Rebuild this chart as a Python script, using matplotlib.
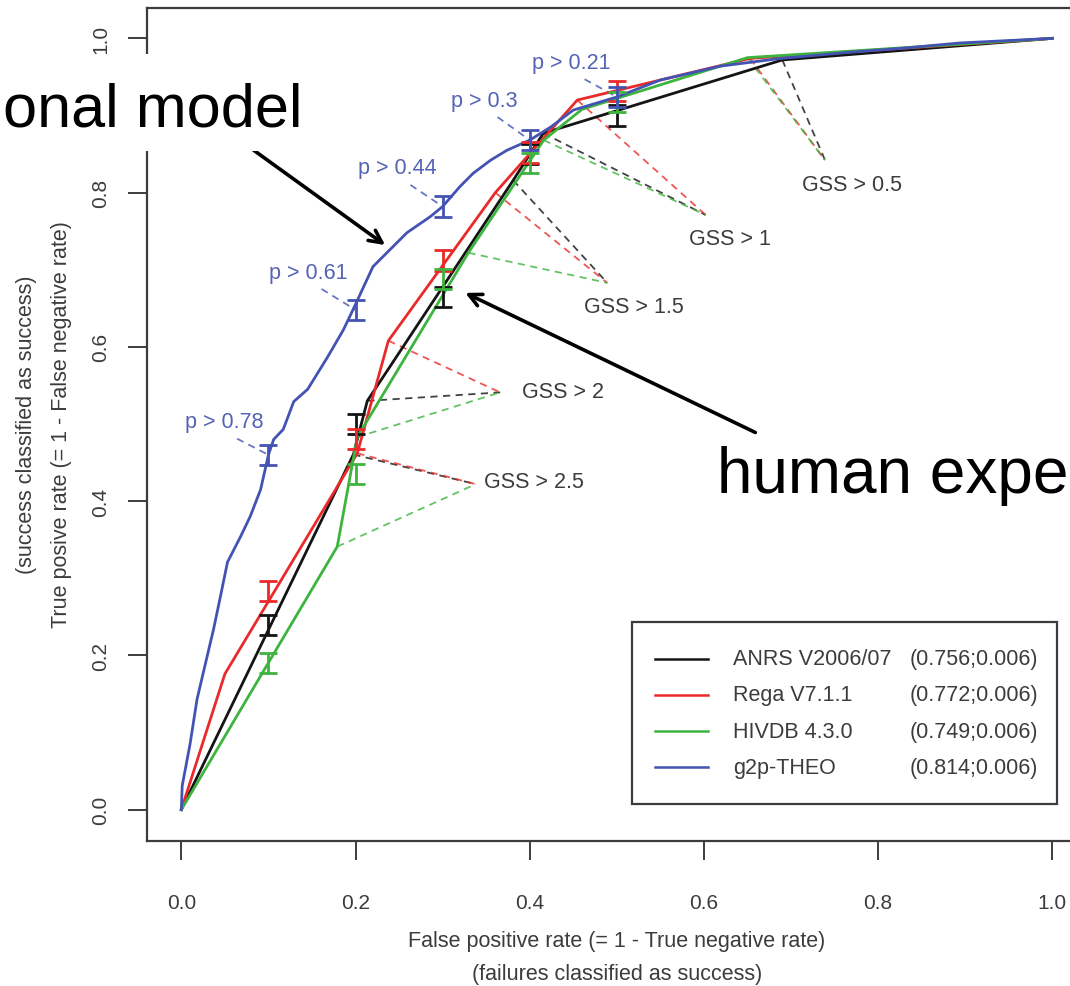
import numpy as np
import matplotlib.pyplot as plt
from matplotlib.patches import Rectangle
from matplotlib.lines import Line2D

plt.rcParams['font.family'] = ['Liberation Sans', 'DejaVu Sans']

# ROC vertices of the three rule-based systems
anrs_x = [0.0, 0.1975, 0.2135, 0.381, 0.4156, 0.690, 1.0]
anrs_y = [0.0, 0.4605, 0.530, 0.816, 0.877, 0.972, 1.0]
rega_x = [0.0, 0.05, 0.202, 0.2377, 0.3605, 0.4546, 0.653, 1.0]
rega_y = [0.0, 0.176, 0.462, 0.608, 0.800, 0.920, 0.974, 1.0]
hivdb_x = [0.0, 0.179, 0.202, 0.3295, 0.416, 0.46, 0.65, 1.0]
hivdb_y = [0.0, 0.341, 0.483, 0.722, 0.868, 0.908, 0.975, 1.0]

# g2p-THEO continuous score curve
theo_x = [0, 0.001, 0.010, 0.018, 0.028, 0.037, 0.045, 0.053, 0.068, 0.079,
          0.091, 0.100, 0.106, 0.117, 0.129, 0.145, 0.168, 0.186, 0.197, 0.220,
          0.259, 0.286, 0.300, 0.320, 0.335, 0.355, 0.374, 0.400, 0.424, 0.450,
          0.500, 0.550, 0.619, 0.688, 0.768, 0.826, 0.894, 1.0]
theo_y = [0, 0.031, 0.085, 0.143, 0.191, 0.234, 0.277, 0.321, 0.354, 0.380,
          0.415, 0.460, 0.480, 0.493, 0.529, 0.545, 0.587, 0.622, 0.648, 0.704,
          0.748, 0.769, 0.782, 0.808, 0.825, 0.842, 0.855, 0.868, 0.885, 0.907,
          0.924, 0.946, 0.964, 0.974, 0.982, 0.987, 0.994, 1.0]

# mean TPR with error bars at fixed FPR
err_fpr = [0.1, 0.2, 0.3, 0.4, 0.5]
anrs_err = [0.240, 0.500, 0.665, 0.850, 0.900]
rega_err = [0.283, 0.480, 0.712, 0.852, 0.932]
hivdb_err = [0.190, 0.435, 0.688, 0.838, 0.918]
theo_err = [0.460, 0.648, 0.782, 0.868, 0.924]
err_half = 0.013

# GSS cut-offs: label, where the dashed lines meet, and text centre
gss_labels = ['GSS > 0.5', 'GSS > 1', 'GSS > 1.5', 'GSS > 2', 'GSS > 2.5']
gss_meet_x = [0.739, 0.602, 0.489, 0.366, 0.338]
gss_meet_y = [0.842, 0.771, 0.683, 0.541, 0.422]
gss_text_x = [0.770, 0.630, 0.520, 0.438, 0.405]
gss_text_y = [0.810, 0.741, 0.652, 0.542, 0.426]
# vertex index of each cut-off on each curve
anrs_idx = [5, 4, 3, 2, 1]
rega_idx = [6, 5, 4, 3, 2]
hivdb_idx = [6, 4, 3, 2, 1]

# g2p probability cut-offs, one per error bar
p_labels = ['p > 0.78', 'p > 0.61', 'p > 0.44', 'p > 0.3', 'p > 0.21']
p_text_x = [0.049, 0.146, 0.248, 0.348, 0.448]
p_text_y = [0.503, 0.697, 0.832, 0.920, 0.969]

names = ['ANRS V2006/07', 'Rega V7.1.1', 'HIVDB 4.3.0', 'g2p-THEO']
auc = ['(0.756;0.006)', '(0.772;0.006)', '(0.749;0.006)', '(0.814;0.006)']

BLACK = '#141414'
RED = '#ea2a2a'
GREEN = '#3db43d'
BLUE = '#4353b3'
GREY = '#3c3c3c'

W, H = 1070, 987
fig = plt.figure(figsize=(W / 100, H / 100), dpi=100)
ax = fig.add_axes([146.5 / W, (H - 841.5) / H, 940.7 / W, 833 / H])
ax.set_xlim(-0.04, 1.04)
ax.set_ylim(-0.04, 1.04)

# dashed connectors first so the curves sit on top
curves = [(anrs_x, anrs_y, anrs_idx, BLACK), (rega_x, rega_y, rega_idx, RED),
          (hivdb_x, hivdb_y, hivdb_idx, GREEN)]
for k in range(len(gss_labels)):
    for cx, cy, idx, col in curves:
        i = idx[k]
        ax.plot([cx[i], gss_meet_x[k]], [cy[i], gss_meet_y[k]], color=col,
                lw=1.3, ls=(0, (4, 3)), alpha=0.8, zorder=2)
    ax.text(gss_text_x[k], gss_text_y[k], gss_labels[k], fontsize=15.5,
            color=GREY, ha='center', va='center', zorder=3)

for k in range(len(p_labels)):
    ax.plot([p_text_x[k] + 0.015, err_fpr[k]], [p_text_y[k] - 0.022, theo_err[k]],
            color=BLUE, lw=1.3, ls=(0, (4, 3)), alpha=0.8, zorder=2)
    ax.text(p_text_x[k], p_text_y[k], p_labels[k], fontsize=15.5,
            color='#5563b5', ha='center', va='center', zorder=3)

series = [(anrs_x, anrs_y, anrs_err, BLACK), (rega_x, rega_y, rega_err, RED),
          (hivdb_x, hivdb_y, hivdb_err, GREEN), (theo_x, theo_y, theo_err, BLUE)]
for cx, cy, ey, col in series:
    ax.plot(cx, cy, color=col, lw=2.0, zorder=4, solid_joinstyle='round')
    ax.errorbar(err_fpr, ey, yerr=err_half, fmt='none', ecolor=col,
                elinewidth=2.0, capsize=6.5, capthick=2.0, zorder=5)

ticks = [0.0, 0.2, 0.4, 0.6, 0.8, 1.0]
ax.set_xticks(ticks, ['%.1f' % t for t in ticks])
ax.set_yticks(ticks, ['%.1f' % t for t in ticks])
ax.tick_params(direction='out', length=14, width=1.4, colors=GREY,
               labelsize=15)
ax.tick_params(axis='x', pad=24)
ax.tick_params(axis='y', pad=12)
for lab in ax.get_yticklabels():
    lab.set_rotation(90)
    lab.set_va('center')
for sp in ax.spines.values():
    sp.set_color(GREY)
    sp.set_linewidth(1.6)

fig.text(617 / W, 1 - 942 / H, 'False positive rate (= 1 - True negative rate)',
         ha='center', va='center', fontsize=15.5, color=GREY)
fig.text(617 / W, 1 - 975 / H, '(failures classified as success)',
         ha='center', va='center', fontsize=15.5, color=GREY)
fig.text(62 / W, 1 - 425 / H, 'True posive rate (= 1 - False negative rate)',
         ha='center', va='center', rotation=90, fontsize=15.5, color=GREY)
fig.text(27 / W, 1 - 425 / H, '(success classified as success)',
         ha='center', va='center', rotation=90, fontsize=15.5, color=GREY)

# legend box with a separate column for the AUC values
leg_x0, leg_x1, leg_y0, leg_y1 = 0.516, 0.968, 0.0438, 0.2623
ax.add_patch(Rectangle((leg_x0, leg_y0), leg_x1 - leg_x0, leg_y1 - leg_y0,
                       transform=ax.transAxes, fill=True, facecolor='white',
                       edgecolor=GREY, lw=1.6, zorder=6))
row_y = [0.218, 0.175, 0.131, 0.088]
for k, col in enumerate([BLACK, RED, GREEN, BLUE]):
    ax.add_line(Line2D([0.5405, 0.597], [row_y[k], row_y[k]], color=col,
                       lw=1.8, transform=ax.transAxes, zorder=7))
    ax.text(0.6235, row_y[k], names[k], transform=ax.transAxes, fontsize=15.5,
            color=GREY, va='center', ha='left', zorder=7)
    ax.text(0.8116, row_y[k], auc[k], transform=ax.transAxes, fontsize=15.5,
            color=GREY, va='center', ha='left', zorder=7)

# slide annotations on top of the chart
fig.patches.append(Rectangle((0, 1 - 152 / H), 300 / W, 97 / H,
                             transform=fig.transFigure, facecolor='white',
                             edgecolor='none', zorder=8))
fig.text(3 / W, 1 - 126.7 / H, 'onal model', ha='left',
         va='baseline', fontsize=44, color='black', zorder=9)
fig.text(717 / W, 1 - 493 / H, 'human expe', ha='left',
         va='baseline', fontsize=46, color='black', zorder=9)
arrow = dict(arrowstyle='->,head_length=0.9,head_width=0.45', lw=2.6,
             color='black', shrinkA=0, shrinkB=0)
ax.annotate('', xy=(0.234, 0.732), xytext=(0.083, 0.855), arrowprops=arrow,
            annotation_clip=False, zorder=9)
ax.annotate('', xy=(0.326, 0.670), xytext=(0.659, 0.489), arrowprops=arrow,
            annotation_clip=False, zorder=9)

fig.savefig('out.png', dpi=100)
